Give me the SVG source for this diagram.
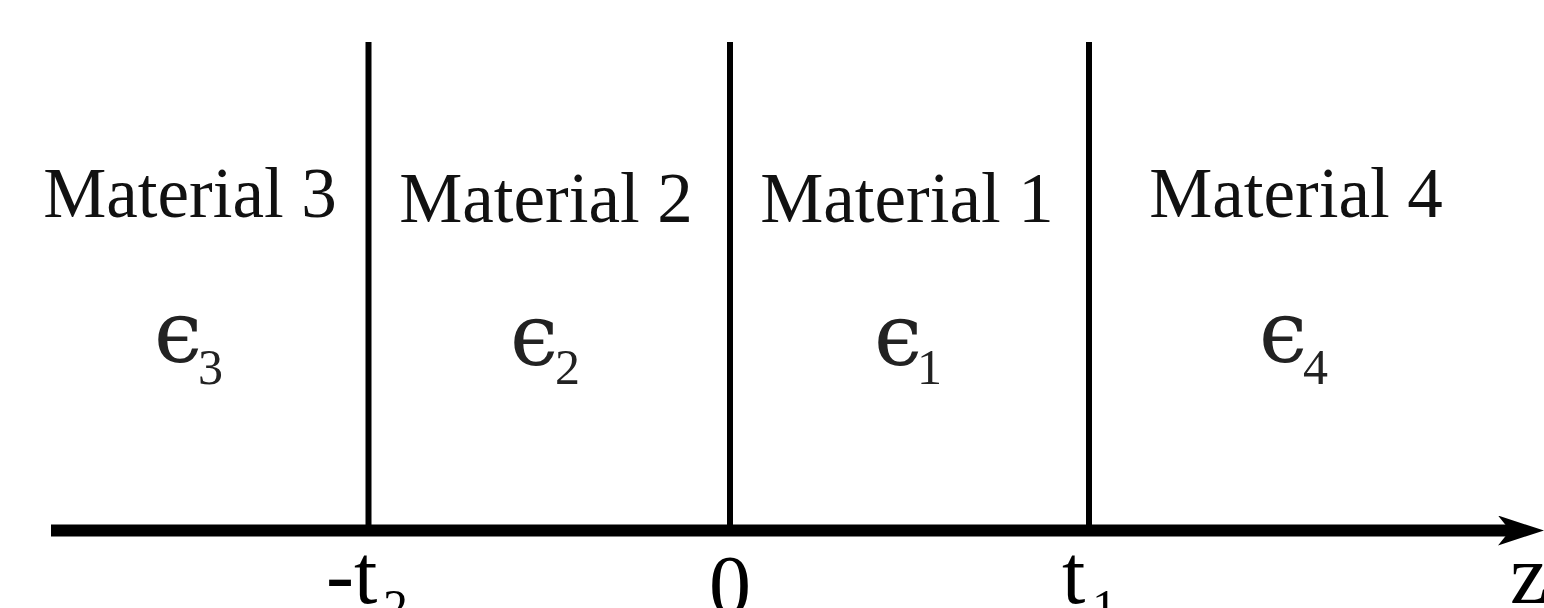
<svg xmlns="http://www.w3.org/2000/svg" width="1544" height="608" viewBox="0 0 1544 608">
<style>
  .lbl { font-family: "Liberation Serif", "DejaVu Serif", serif; font-size: 71px; fill: #111; }
  .eps { font-family: "DejaVu Serif", "Liberation Serif", serif; font-size: 86px; fill: #222; }
  .sub { font-family: "Liberation Serif", "DejaVu Serif", serif; font-size: 50px; fill: #222; }
  .ax { font-family: "Liberation Serif", "DejaVu Serif", serif; font-size: 84px; fill: #000; }
  .axsub { font-family: "Liberation Serif", "DejaVu Serif", serif; font-size: 50px; fill: #000; }
  .wall { stroke: #000; stroke-width: 6; fill: none; }
  .axis { stroke: #000; stroke-width: 12; fill: none; }
</style>
<defs>
  <marker id="arrow" markerUnits="userSpaceOnUse" viewBox="0 0 46 30" markerWidth="46" markerHeight="30" refX="12" refY="15" orient="auto">
    <path d="M0,0 L46,15 L0,30 L12,15 Z" fill="#000"/>
  </marker>
</defs>
<rect width="1544" height="608" fill="#fff"/>
<g id="connectors">
  <line class="wall" x1="368.5" y1="42" x2="368.5" y2="531"/>
  <line class="wall" x1="730" y1="42" x2="730" y2="531"/>
  <line class="wall" x1="1089" y1="42" x2="1089" y2="531"/>
  <line class="axis" x1="51" y1="530.5" x2="1510" y2="530.5" marker-end="url(#arrow)"/>
</g>
<g id="material3">
  <text class="lbl" x="190" y="217" text-anchor="middle">Material 3</text>
  <text class="eps" x="154" y="362">ϵ<tspan class="sub" x="198" y="384">3</tspan></text>
</g>
<g id="material2">
  <text class="lbl" x="546" y="222" text-anchor="middle">Material 2</text>
  <text class="eps" x="510" y="365">ϵ<tspan class="sub" x="555" y="384">2</tspan></text>
</g>
<g id="material1">
  <text class="lbl" x="907" y="222" text-anchor="middle">Material 1</text>
  <text class="eps" x="874" y="365">ϵ<tspan class="sub" x="917" y="384">1</tspan></text>
</g>
<g id="material4">
  <text class="lbl" x="1296" y="217" text-anchor="middle">Material 4</text>
  <text class="eps" x="1259" y="362">ϵ<tspan class="sub" x="1303" y="384">4</tspan></text>
</g>
<g id="axis-labels">
  <text class="ax" x="326" y="603">-t<tspan class="axsub" x="383" y="624">2</tspan></text>
  <text class="ax" x="730" y="614" text-anchor="middle">0</text>
  <text class="ax" x="1062" y="603">t<tspan class="axsub" x="1092" y="624">1</tspan></text>
  <text class="ax" x="1510" y="603">z</text>
</g>
</svg>
